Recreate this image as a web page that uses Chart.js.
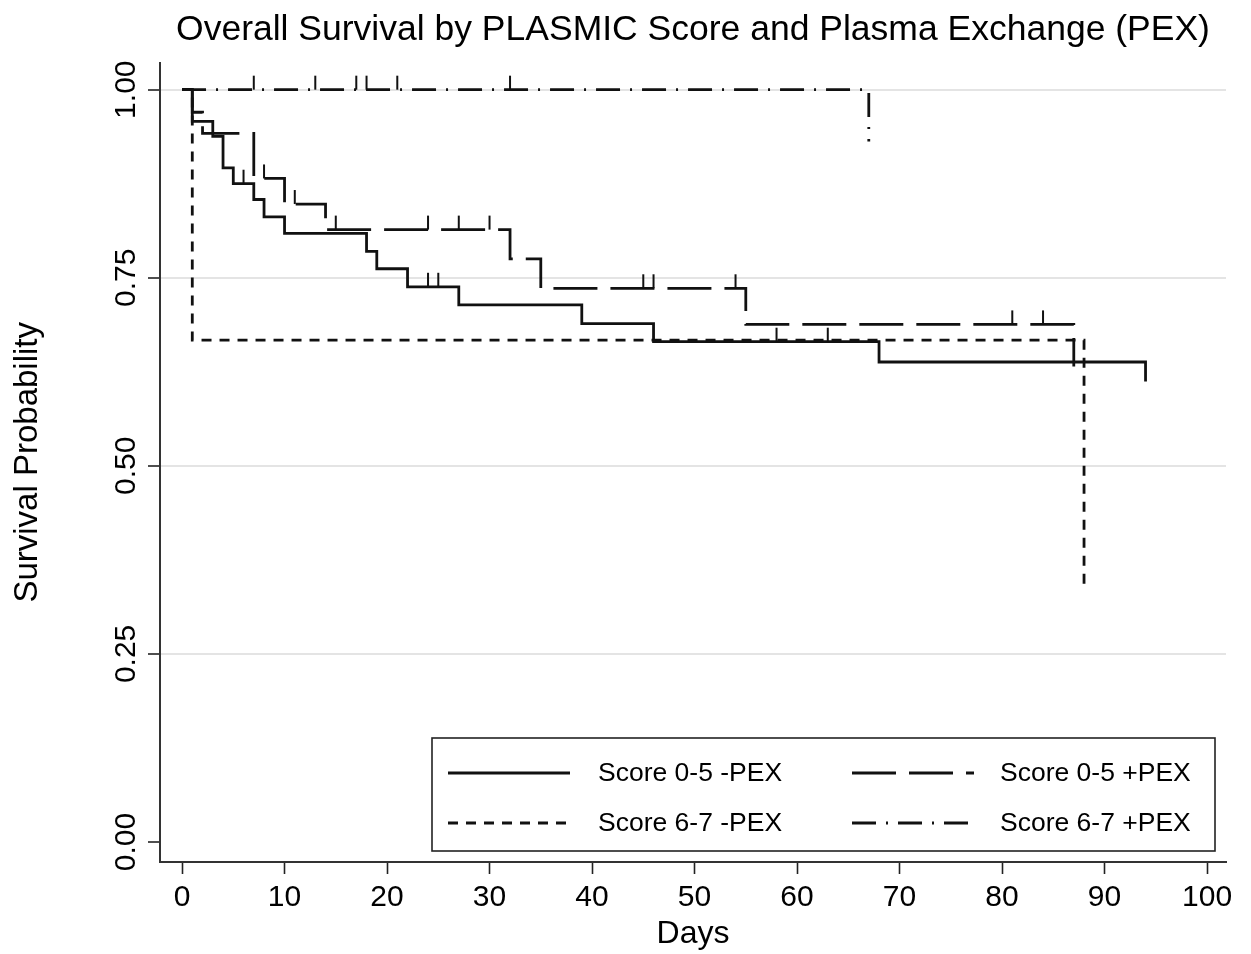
<!DOCTYPE html>
<html>
<head>
<meta charset="utf-8">
<script src="https://cdn.jsdelivr.net/npm/chart.js@4.4.1/dist/chart.umd.min.js"></script>
<style>
  html, body { margin: 0; padding: 0; background: #fff; }
</style>
</head>
<body>
<canvas id="km" width="1251" height="954"></canvas>
<script>
const FONT = '"Liberation Sans", Arial, Helvetica, sans-serif'

const seriesNames = ['Score 0-5 -PEX', 'Score 6-7 -PEX', 'Score 0-5 +PEX', 'Score 6-7 +PEX']

// Kaplan-Meier steps: day of each step and survival after it
const lowNoPexDays = [0, 1, 3, 4, 5, 7, 8, 10, 18, 19, 22, 27, 39, 46, 68, 94]
const lowNoPexSurv = [1, 0.958, 0.938, 0.896, 0.875, 0.854, 0.831, 0.809, 0.785, 0.762, 0.738, 0.714, 0.689, 0.665, 0.638, 0.612]
const lowNoPexCensor = [6, 24, 25, 58, 63]

const highNoPexDays = [0, 1, 88]
const highNoPexSurv = [1, 0.667, 0.34]
const highNoPexCensor = []

const lowPexDays = [0, 1, 2, 7, 10, 14, 32, 35, 55, 87]
const lowPexSurv = [1, 0.97, 0.942, 0.882, 0.848, 0.814, 0.775, 0.736, 0.688, 0.632]
const lowPexCensor = [8, 11, 15, 24, 27, 30, 45, 46, 54, 81, 84]

const highPexDays = [0, 67]
const highPexSurv = [1, 0.931]
const highPexCensor = [7, 13, 17, 18, 21, 32]

const dayTicks = [0, 10, 20, 30, 40, 50, 60, 70, 80, 90, 100]
const survTicks = [0, 0.25, 0.5, 0.75, 1]
const survTickLabels = ['0.00', '0.25', '0.50', '0.75', '1.00']

const dashes = [[], [10, 8], [44, 13], [24, 10, 2, 10]]
const censorLists = [lowNoPexCensor, highNoPexCensor, lowPexCensor, highPexCensor]

function toPoints(days, surv) {
  return days.map((d, i) => ({ x: d, y: surv[i] }))
}

function survAt(points, t) {
  let s = points[0].y
  points.forEach(p => { if (p.x <= t) s = p.y })
  return s
}

const datasets = [
  toPoints(lowNoPexDays, lowNoPexSurv),
  toPoints(highNoPexDays, highNoPexSurv),
  toPoints(lowPexDays, lowPexSurv),
  toPoints(highPexDays, highPexSurv)
].map((pts, i) => ({
  label: seriesNames[i],
  data: pts,
  stepped: 'before',
  borderColor: '#111',
  borderWidth: 2.8,
  borderDash: dashes[i],
  pointRadius: 0,
  fill: false
}))

// small upward ticks where subjects were censored
const censorTicks = {
  id: 'censorTicks',
  afterDatasetsDraw(chart) {
    const { ctx, scales: { x, y } } = chart
    ctx.save()
    ctx.strokeStyle = '#111'
    ctx.lineWidth = 2
    ctx.setLineDash([])
    chart.data.datasets.forEach((ds, i) => {
      censorLists[i].forEach(t => {
        const px = x.getPixelForValue(t)
        const py = y.getPixelForValue(survAt(ds.data, t))
        ctx.beginPath()
        ctx.moveTo(px, py)
        ctx.lineTo(px, py - 14)
        ctx.stroke()
      })
    })
    ctx.restore()
  }
}

// vertical y tick labels, as in the original
const yLabels = {
  id: 'yLabels',
  afterDraw(chart) {
    const { ctx, scales: { y } } = chart
    ctx.save()
    ctx.fillStyle = '#000'
    ctx.font = '30px ' + FONT
    ctx.textAlign = 'center'
    ctx.textBaseline = 'middle'
    survTicks.forEach((v, i) => {
      ctx.save()
      ctx.translate(127, y.getPixelForValue(v))
      ctx.rotate(-Math.PI / 2)
      ctx.fillText(survTickLabels[i], 0, 0)
      ctx.restore()
    })
    ctx.restore()
  }
}

// boxed legend in two columns inside the plot
const boxLegend = {
  id: 'boxLegend',
  afterDraw(chart) {
    const ctx = chart.ctx
    const box = { x: 432, y: 738, w: 783, h: 113 }
    ctx.save()
    ctx.fillStyle = '#fff'
    ctx.fillRect(box.x, box.y, box.w, box.h)
    ctx.strokeStyle = '#222'
    ctx.lineWidth = 1.6
    ctx.setLineDash([])
    ctx.strokeRect(box.x, box.y, box.w, box.h)
    const slots = [
      { i: 0, lx: 448, tx: 598, y: 773 },
      { i: 2, lx: 852, tx: 1000, y: 773 },
      { i: 1, lx: 448, tx: 598, y: 823 },
      { i: 3, lx: 852, tx: 1000, y: 823 }
    ]
    ctx.font = '26.5px ' + FONT
    ctx.textBaseline = 'middle'
    ctx.textAlign = 'left'
    slots.forEach(s => {
      const ds = chart.data.datasets[s.i]
      ctx.strokeStyle = '#111'
      ctx.lineWidth = 2.8
      ctx.setLineDash(ds.borderDash)
      ctx.beginPath()
      ctx.moveTo(s.lx, s.y)
      ctx.lineTo(s.lx + 122, s.y)
      ctx.stroke()
      ctx.fillStyle = '#000'
      ctx.fillText(ds.label, s.tx, s.y + 1)
    })
    ctx.restore()
  }
}

new Chart(document.getElementById('km'), {
  type: 'line',
  data: { datasets },
  plugins: [censorTicks, yLabels, boxLegend],
  options: {
    responsive: false,
    animation: false,
    layout: { padding: { top: 0, right: 25, bottom: 0, left: 0 } },
    plugins: {
      legend: { display: false },
      tooltip: { enabled: false },
      title: {
        display: true,
        fullSize: false,
        text: 'Overall Survival by PLASMIC Score and Plasma Exchange (PEX)',
        color: '#000',
        font: { family: FONT, size: 35.5, weight: 'normal', lineHeight: 1.2 },
        padding: { top: 9, bottom: 11 }
      }
    },
    scales: {
      x: {
        type: 'linear',
        min: -2.15,
        max: 101.85,
        afterBuildTicks: s => { s.ticks = dayTicks.map(v => ({ value: v })) },
        afterFit: s => { s.height = 92 },
        ticks: {
          color: '#000',
          font: { family: FONT, size: 30 },
          padding: 6,
          maxRotation: 0,
          autoSkip: false,
          callback: v => String(v)
        },
        grid: { drawOnChartArea: false, tickLength: 12, tickColor: '#222', tickWidth: 1.6 },
        border: { display: true, color: '#333', width: 2 },
        title: {
          display: true,
          text: 'Days',
          color: '#000',
          font: { family: FONT, size: 32, lineHeight: 1.2 },
          padding: { top: 0, bottom: 1 }
        }
      },
      y: {
        type: 'linear',
        min: -0.0266,
        max: 1.036,
        afterBuildTicks: s => { s.ticks = survTicks.map(v => ({ value: v })) },
        afterFit: s => { s.width = 160 },
        ticks: { display: false },
        grid: {
          color: c => (c.tick && c.tick.value === 0 ? 'rgba(0,0,0,0)' : '#e4e4e4'),
          lineWidth: 2,
          tickLength: 12,
          tickColor: '#222',
          tickWidth: 1.6
        },
        border: { display: true, color: '#333', width: 2 },
        title: {
          display: true,
          text: 'Survival Probability',
          color: '#000',
          font: { family: FONT, size: 33, lineHeight: 1.2 },
          padding: { top: 8, bottom: 0 }
        }
      }
    }
  }
})
</script>
</body>
</html>
